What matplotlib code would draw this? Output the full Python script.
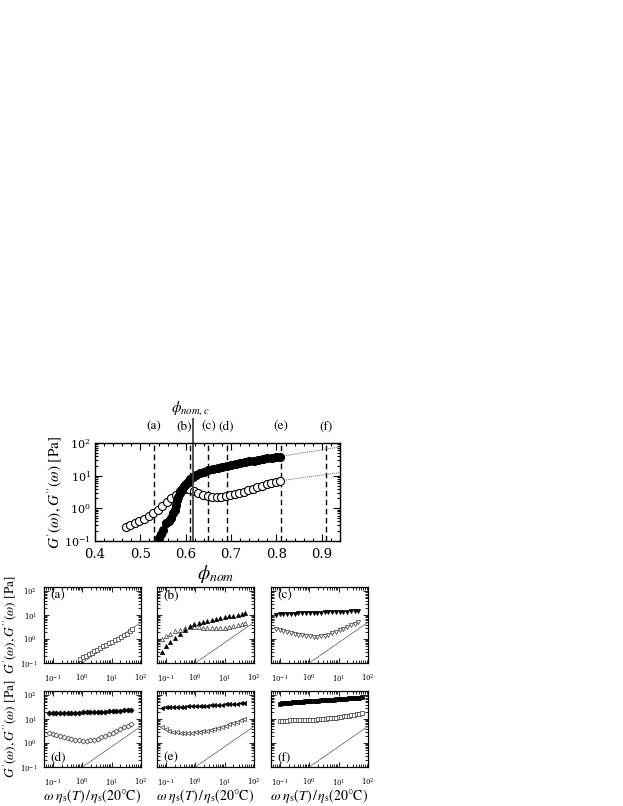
import matplotlib.pyplot as plt
from matplotlib.ticker import LogLocator, MultipleLocator, NullFormatter
from matplotlib.transforms import blended_transform_factory

plt.rcParams['font.family'] = 'STIXGeneral'
plt.rcParams['mathtext.fontset'] = 'stix'

# ---- main panel: moduli vs nominal volume fraction ----
phi_open = [0.468, 0.478, 0.488, 0.498, 0.508, 0.518, 0.528, 0.538, 0.548, 0.558,
            0.568, 0.578, 0.588, 0.598, 0.608, 0.618, 0.628, 0.638, 0.648, 0.658,
            0.668, 0.678, 0.688, 0.698, 0.708, 0.718, 0.728, 0.738, 0.748, 0.758,
            0.768, 0.778, 0.788, 0.798, 0.808]
gpp_open = [0.27, 0.31, 0.35, 0.41, 0.48, 0.58, 0.72, 0.92, 1.2, 1.55,
            2.0, 2.6, 3.3, 3.8, 3.9, 3.3, 2.9, 2.6, 2.35, 2.25,
            2.2, 2.3, 2.45, 2.6, 2.75, 2.95, 3.2, 3.6, 4.0, 4.4,
            4.9, 5.4, 5.9, 6.4, 7.0]
phi_fill = [0.541, 0.546, 0.550, 0.557, 0.562, 0.567, 0.572, 0.576, 0.579, 0.581,
            0.584, 0.587, 0.592, 0.596, 0.600, 0.605, 0.610, 0.616, 0.622, 0.631,
            0.640, 0.650, 0.660, 0.670, 0.680, 0.690, 0.700, 0.710, 0.720, 0.730,
            0.740, 0.750, 0.760, 0.770, 0.780, 0.790, 0.800, 0.808]
gp_fill = [0.126, 0.16, 0.22, 0.35, 0.42, 0.51, 0.7, 0.9, 1.3, 1.8,
           2.3, 3.0, 3.8, 4.7, 5.5, 6.6, 7.8, 9.0, 10.2, 11.7,
           13.0, 14.5, 15.8, 17.2, 18.6, 20.0, 21.4, 22.8, 24.2, 25.8,
           27.5, 29.0, 30.8, 32.5, 34.0, 35.5, 37.0, 38.5]
ext_phi = [0.808, 0.94]
ext_gp = [38.5, 76]
ext_gpp = [7.0, 12.5]

phi_marks = [0.53, 0.61, 0.65, 0.69, 0.81, 0.91]
mark_labels = ['(a)', '(b)', '(c)', '(d)', '(e)', '(f)']
label_phi = [0.53, 0.597, 0.65, 0.69, 0.81, 0.91]
phi_c = 0.617

# ---- small panels: frequency sweeps ----
w_a = [0.85, 1.06, 1.33, 1.67, 2.1, 2.6, 3.3, 4.1, 5.2, 6.5,
       8.2, 10.3, 13, 16.3, 20.5, 25.8, 32.4, 40.8, 51]
gpp_a = [0.15, 0.17, 0.20, 0.23, 0.27, 0.31, 0.36, 0.42, 0.49, 0.57,
         0.66, 0.77, 0.9, 1.05, 1.22, 1.45, 1.7, 2.1, 2.6]

w_b = [0.075, 0.1, 0.14, 0.2, 0.3, 0.45, 0.65, 0.9, 1.3, 1.8,
       2.6, 3.6, 5, 7, 10, 14, 20, 28, 40, 50]
gp_b = [0.3, 0.5, 0.75, 1.1, 1.6, 2.5, 3.5, 4.2, 4.8, 5.3,
        5.8, 6.3, 6.9, 7.5, 8.1, 8.8, 9.6, 10.5, 11.5, 12.5]
gpp_b = [1.0, 1.3, 1.7, 2.1, 2.5, 2.9, 3.1, 3.2, 3.1, 3.0,
         2.9, 2.8, 2.8, 2.9, 3.0, 3.2, 3.5, 3.8, 4.2, 4.5]

w_cde = [0.075, 0.1, 0.13, 0.18, 0.24, 0.32, 0.43, 0.58, 0.78, 1.05,
         1.4, 1.9, 2.5, 3.4, 4.5, 6, 8, 11, 14.5, 19.5, 26, 35, 47]
gp_c = [10.5, 10.8, 11, 11.2, 11.4, 11.6, 11.8, 12, 12.2, 12.3,
        12.5, 12.6, 12.8, 13, 13.1, 13.3, 13.5, 13.7, 13.9, 14.1, 14.3, 14.5, 14.7]
gpp_c = [2.6, 2.4, 2.2, 2.0, 1.85, 1.7, 1.55, 1.45, 1.35, 1.3,
         1.25, 1.25, 1.3, 1.4, 1.55, 1.75, 2.0, 2.35, 2.75, 3.2, 3.7, 4.3, 5.0]
gp_d = [18, 18, 18, 18, 18.2, 18.4, 18.5, 18.7, 18.9, 19.1,
        19.3, 19.5, 19.8, 20, 20.3, 20.7, 21.1, 21.6, 22.1, 22.7, 23.4, 24.2, 25.2]
gpp_d = [2.6, 2.4, 2.2, 2.0, 1.8, 1.65, 1.5, 1.38, 1.3, 1.25,
         1.25, 1.3, 1.4, 1.55, 1.75, 2.0, 2.3, 2.7, 3.2, 3.8, 4.5, 5.4, 6.5]
gp_e = [30, 31, 31.5, 32, 32.5, 33, 33.5, 34, 34.5, 35,
        35.5, 36, 36.8, 37.5, 38.3, 39, 40, 41, 42, 43, 44, 45.5, 47]
gpp_e = [4.5, 3.8, 3.3, 3.0, 2.8, 2.7, 2.65, 2.65, 2.7, 2.8,
         2.95, 3.1, 3.35, 3.6, 3.95, 4.3, 4.8, 5.4, 6.1, 6.9, 7.9, 9.0, 10.5]

w_f = [0.1, 0.12, 0.15, 0.18, 0.22, 0.27, 0.33, 0.4, 0.49, 0.6,
       0.73, 0.9, 1.1, 1.35, 1.65, 2, 2.45, 3, 3.7, 4.5,
       5.5, 6.7, 8.2, 10, 12.2, 15, 18.3, 22.4, 27.4, 33.5, 41, 50, 61]
gp_f = [45, 46, 47, 48, 49, 50, 51, 52, 53, 54,
        55, 56, 57, 58, 59, 60, 61, 62, 63, 64,
        65, 66, 67, 68, 69, 70.5, 72, 73.5, 75, 76.5, 78, 80, 82]
gpp_f = [8.0, 8.3, 8.5, 8.7, 8.8, 8.9, 9.0, 9.0, 9.1, 9.1,
         9.2, 9.3, 9.4, 9.5, 9.6, 9.8, 10.0, 10.2, 10.4, 10.7,
         11.0, 11.3, 11.7, 12.1, 12.5, 13.0, 13.5, 14.0, 14.6, 15.2, 16.0, 16.8, 17.6]

ref_w = [1, 100]
ref_g = [0.1, 5.0]

W, H = 623, 806
fig = plt.figure(figsize=(W / 100, H / 100), dpi=100)


def px_axes(left, top, width, height):
    return fig.add_axes([left / W, 1 - (top + height) / H, width / W, height / H])


def px_text(x, y, s, **kw):
    fig.text(x / W, 1 - y / H, s, **kw)


# ---------------- main panel ----------------
ax = px_axes(95, 443, 245, 98)
ax.set_yscale('log')
ax.set_xlim(0.4, 0.94)
ax.set_ylim(0.1, 100)

ax.plot(ext_phi, ext_gp, ls=(0, (1, 1)), lw=0.7, color='#666666')
ax.plot(ext_phi, ext_gpp, ls=(0, (1, 1)), lw=0.7, color='#666666')
for p in phi_marks:
    ax.axvline(p, ls=(0, (4, 2.5)), lw=1.0, color='black')
ax.plot(phi_open, gpp_open, 'o', ms=5.8, mfc='white', mec='black', mew=0.8)
ax.plot(phi_fill, gp_fill, 'o', ms=5.8, mfc='black', mec='black', mew=0.8)

trans = blended_transform_factory(ax.transData, ax.transAxes)
ax.plot([phi_c, phi_c], [0, 1.24], transform=trans, clip_on=False, lw=1.3, color='#444444')
for lp, lab in zip(label_phi, mark_labels):
    ax.text(lp, 1.165, lab, transform=trans, ha='center', va='center', fontsize=9.5)
ax.text(phi_c - 0.006, 1.36, r'$\phi_{nom,c}$', transform=trans, ha='center', va='center',
        fontsize=11)

ax.xaxis.set_major_locator(MultipleLocator(0.1))
ax.xaxis.set_minor_locator(MultipleLocator(0.02))
ax.yaxis.set_minor_locator(LogLocator(base=10, subs=range(2, 10)))
ax.yaxis.set_minor_formatter(NullFormatter())
ax.tick_params(which='both', direction='in', top=True, right=True, width=0.8)
ax.tick_params(which='major', length=5)
ax.tick_params(which='minor', length=2.5)
ax.tick_params(axis='x', labelsize=9.5, pad=5)
ax.tick_params(axis='y', labelsize=8, pad=3)
for t in ax.get_xticklabels() + ax.get_yticklabels():
    t.set_fontfamily('DejaVu Serif')
for s in ax.spines.values():
    s.set_linewidth(1.0)

px_text(55, 492, r"$G'(\omega),G''(\omega)$ [Pa]", rotation=90, ha='center', va='center',
        fontsize=11)
px_text(216, 574, r'$\phi_{nom}$', ha='center', va='center', fontsize=14)

# ---------------- small panels ----------------
col_left = [44, 157, 271]
row_top = [587, 691]
pw, ph = 97, 76

panels = [
    ('(a)', None, None, w_a, gpp_a, 's'),
    ('(b)', w_b, gp_b, w_b, gpp_b, '^'),
    ('(c)', w_cde, gp_c, w_cde, gpp_c, 'v'),
    ('(d)', w_cde, gp_d, w_cde, gpp_d, 'D'),
    ('(e)', w_cde, gp_e, w_cde, gpp_e, '<'),
    ('(f)', w_f, gp_f, w_f, gpp_f, 's'),
]

for i, (lab, wx, gp, wy, gpp, mk) in enumerate(panels):
    r, c = divmod(i, 3)
    a = px_axes(col_left[c], row_top[r], pw, ph)
    a.set_xscale('log')
    a.set_yscale('log')
    a.set_xlim(0.05, 100)
    a.set_ylim(0.1, 150)
    a.plot(ref_w, ref_g, lw=0.5, color='#555555')
    ms = 3.0 if mk != 'D' else 2.6
    a.plot(wy, gpp, mk, ms=ms, mfc='white', mec='#333333', mew=0.5)
    if gp is not None:
        a.plot(wx, gp, mk, ms=ms, mfc='black', mec='black', mew=0.5)
    if r == 0:
        a.text(0.07, 0.88, lab, transform=a.transAxes, ha='left', va='center', fontsize=9.5)
    else:
        a.text(0.07, 0.12, lab, transform=a.transAxes, ha='left', va='center', fontsize=9.5)
    a.xaxis.set_major_locator(LogLocator(base=10, numticks=10))
    a.yaxis.set_major_locator(LogLocator(base=10, numticks=10))
    for axis in (a.xaxis, a.yaxis):
        axis.set_minor_locator(LogLocator(base=10, subs=range(2, 10), numticks=20))
        axis.set_minor_formatter(NullFormatter())
    a.tick_params(which='both', direction='in', top=True, right=True, width=0.6)
    a.tick_params(which='major', length=3.5, labelsize=5)
    a.tick_params(axis='x', which='major', pad=7)
    a.tick_params(axis='y', which='major', pad=5)
    a.tick_params(which='minor', length=2)
    if c != 0:
        a.set_yticklabels([])
    for t in a.get_xticklabels() + a.get_yticklabels():
        t.set_fontfamily('DejaVu Serif')
    for s in a.spines.values():
        s.set_linewidth(0.9)

for r in range(2):
    px_text(10, row_top[r] + ph / 2, r"$G'(\omega),G''(\omega)$ [Pa]", rotation=90,
            ha='center', va='center', fontsize=9.5)
for c in range(3):
    px_text(col_left[c] + pw / 2, 796, r'$\omega\ \eta_{\rm s}(T)\,/\,\eta_{\rm s}(20°{\rm C})$',
            ha='center', va='center', fontsize=10)

fig.savefig('out.png', dpi=100)
